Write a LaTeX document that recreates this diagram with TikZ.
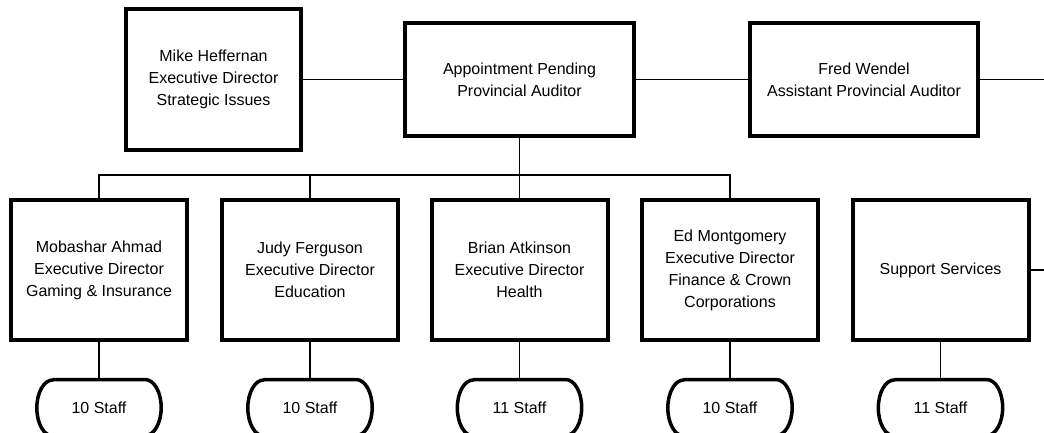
\documentclass[tikz,border=0pt]{standalone}
\usepackage{fontspec}
\setmainfont{Liberation Sans}
\begin{document}
\begin{tikzpicture}[x=1pt,y=1pt,
  every node/.style={font=\fontsize{16}{22}\selectfont, align=center, inner sep=0pt},
  topbox/.style={draw, line width=4pt, minimum height=112pt},
  unitbox/.style={draw, line width=4pt, minimum width=176pt, minimum height=140pt},
  staffnode/.style={minimum width=124pt, minimum height=56pt},
  staffline/.style={line width=3.5pt, line join=round},
  conn/.style={line width=1.1pt}]
\useasboundingbox (0,0) rectangle (1044,432);
\fill[white] (0,0) rectangle (1044,432);
% top row
\node[draw, line width=4pt, minimum width=175pt, minimum height=140pt] (mike) at (213.5,352.5) {Mike Heffernan\\Executive Director\\Strategic Issues};
\node[topbox, minimum width=229pt] (app) at (519.5,352.5) {Appointment Pending\\Provincial Auditor};
\node[topbox, minimum width=228pt] (fred) at (864,352.5) {Fred Wendel\\Assistant Provincial Auditor};
\coordinate (fredend) at (1044,352.5);
% bottom row
\node[unitbox] (b1) at (99,162) {Mobashar Ahmad\\Executive Director\\Gaming \& Insurance};
\node[unitbox] (b2) at (310,162) {Judy Ferguson\\Executive Director\\Education};
\node[unitbox] (b3) at (519.5,162) {Brian Atkinson\\Executive Director\\Health};
\node[unitbox] (b4) at (730,162) {Ed Montgomery\\Executive Director\\Finance \& Crown\\Corporations};
\node[unitbox] (b5) at (940.5,162) {Support Services};
\coordinate (supend) at (1044,162);
\coordinate (bus) at (0,257);
% staff
\node[staffnode] (s1) at (99,24.25) {10 Staff};
\node[staffnode] (s2) at (310,24.25) {10 Staff};
\node[staffnode] (s3) at (519.5,24.25) {11 Staff};
\node[staffnode] (s4) at (730,24.25) {10 Staff};
\node[staffnode] (s5) at (940.5,24.25) {11 Staff};
\foreach \n in {s1,s2,s3,s4,s5}
  \draw[staffline] ([xshift=16pt]\n.north west) -- ([xshift=-16pt]\n.north east)
    arc[start angle=90, end angle=-90, x radius=16pt, y radius=28pt]
    -- ([xshift=16pt]\n.south west)
    arc[start angle=270, end angle=90, x radius=16pt, y radius=28pt] -- cycle;
% connectors
\draw[conn] (mike.east) -- (app.west);
\draw[conn] (app.east) -- (fred.west);
\draw[conn] (fred.east) -- (fredend);
\draw[conn] (app.south) -- (b3.north);
\draw[conn] (b1.north) -- (b1.north |- bus) -- (b4.north |- bus) -- (b4.north);
\draw[conn] (b2.north) -- (b2.north |- bus);
\draw[conn] (b5.east) -- (supend);
\foreach \i in {1,...,5}
  \draw[conn] (b\i.south) -- (s\i.north);
\end{tikzpicture}
\end{document}
